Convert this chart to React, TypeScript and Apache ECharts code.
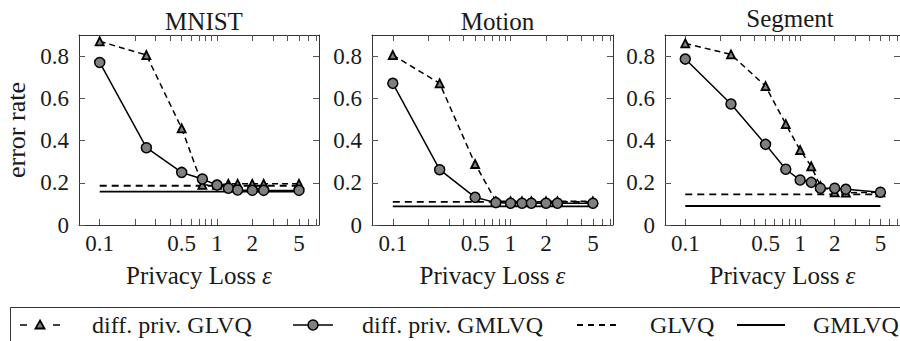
import React, { useEffect, useRef } from "react";
import * as echarts from "echarts";

// ---- data ----
const epsilons = [0.1, 0.25, 0.5, 0.75, 1, 1.25, 1.5, 2, 2.5, 5];
const datasetNames = ["MNIST", "Motion", "Segment"];

const mnistDpGlvq = [0.87, 0.805, 0.458, 0.19, 0.19, 0.195, 0.195, 0.195, 0.195, 0.195];
const mnistDpGmlvq = [0.77, 0.366, 0.249, 0.218, 0.189, 0.174, 0.166, 0.164, 0.164, 0.164];
const mnistGlvq = 0.186;
const mnistGmlvq = 0.158;

const motionDpGlvq = [0.805, 0.671, 0.289, 0.113, 0.112, 0.112, 0.112, 0.112, 0.112, 0.112];
const motionDpGmlvq = [0.671, 0.262, 0.131, 0.106, 0.103, 0.103, 0.103, 0.103, 0.103, 0.103];
const motionGlvq = 0.11;
const motionGmlvq = 0.088;

const segmentDpGlvq = [0.86, 0.808, 0.658, 0.478, 0.355, 0.278, 0.185, 0.155, 0.153, 0.155];
const segmentDpGmlvq = [0.786, 0.573, 0.382, 0.264, 0.213, 0.202, 0.174, 0.174, 0.169, 0.155];
const segmentGlvq = 0.145;
const segmentGmlvq = 0.09;

const xLabelTicks = [0.1, 0.5, 1, 2, 5];
const xMinorTicks = [0.1, 0.2, 0.3, 0.4, 0.5, 0.6, 0.7, 0.8, 0.9, 1, 2, 3, 4, 5, 6, 7];
const yLabelTicks = [0, 0.2, 0.4, 0.6, 0.8];

const legendNames = ["diff. priv. GLVQ", "diff. priv. GMLVQ", "GLVQ", "GMLVQ"];

// ---- layout / style ----
const X_MIN = -1.1765; // log10 space
const X_MAX = 0.8695;
const Y_MIN = 0;
const Y_MAX = 0.9;
const FONT = "Liberation Serif";
const TEXT = "#1a1a1a";
const AXIS = "#333";
const TICK = "#555";
const GRAY = "#7f7f7f";

const grids = [
  { left: 79, top: 35, width: 240, height: 190 },
  { left: 372, top: 35, width: 241, height: 190 },
  { left: 665, top: 35, width: 240, height: 190 },
];
const titleTops = [4, 4, 1];

export default function App() {
  const ref = useRef<HTMLDivElement>(null);

  useEffect(() => {
    if (!ref.current) return;
    const chart = echarts.init(ref.current, null, { renderer: "svg" });
    const lg = Math.log10;
    const fmtX = (v: number) => String(Number(Math.pow(10, v).toPrecision(3)));

    const panels = [
      { dpGlvq: mnistDpGlvq, dpGmlvq: mnistDpGmlvq, glvq: mnistGlvq, gmlvq: mnistGmlvq },
      { dpGlvq: motionDpGlvq, dpGmlvq: motionDpGmlvq, glvq: motionGlvq, gmlvq: motionGmlvq },
      { dpGlvq: segmentDpGlvq, dpGmlvq: segmentDpGmlvq, glvq: segmentGlvq, gmlvq: segmentGmlvq },
    ];

    const xAxes: any[] = [];
    const yAxes: any[] = [];
    const series: any[] = [];

    grids.forEach((_, i) => {
      const tickCommon = {
        show: true,
        inside: true,
        length: 6,
        lineStyle: { color: TICK, width: 1 },
      };
      xAxes.push({
        gridIndex: i,
        type: "value",
        position: "bottom",
        min: X_MIN,
        max: X_MAX,
        axisLine: { show: true, onZero: false, lineStyle: { color: AXIS, width: 1 } },
        axisTick: { ...tickCommon, customValues: xMinorTicks.map(lg) },
        axisLabel: {
          customValues: xLabelTicks.map(lg),
          formatter: fmtX,
          fontFamily: FONT,
          fontSize: 23,
          color: TEXT,
          margin: 7,
        },
        splitLine: { show: false },
        name: "Privacy Loss {e|ε}",
        nameLocation: "middle",
        nameGap: 38,
        nameTextStyle: {
          fontFamily: FONT,
          fontSize: 25,
          color: TEXT,
          rich: { e: { fontFamily: FONT, fontSize: 25, fontStyle: "italic", color: TEXT } },
        },
      });
      xAxes.push({
        gridIndex: i,
        type: "value",
        position: "top",
        min: X_MIN,
        max: X_MAX,
        axisLine: { show: true, onZero: false, lineStyle: { color: AXIS, width: 1 } },
        axisTick: { ...tickCommon, customValues: xMinorTicks.map(lg) },
        axisLabel: { show: false },
        splitLine: { show: false },
      });
      yAxes.push({
        gridIndex: i,
        type: "value",
        position: "left",
        min: Y_MIN,
        max: Y_MAX,
        axisLine: { show: true, onZero: false, lineStyle: { color: AXIS, width: 1 } },
        axisTick: { ...tickCommon, customValues: yLabelTicks },
        axisLabel: {
          customValues: yLabelTicks,
          formatter: (v: number) => String(Number(v.toFixed(1))),
          fontFamily: FONT,
          fontSize: 23,
          color: TEXT,
          margin: 10,
        },
        splitLine: { show: false },
        ...(i === 0
          ? {
              name: "error rate",
              nameLocation: "middle",
              nameGap: 50,
              nameRotate: 90,
              nameTextStyle: { fontFamily: FONT, fontSize: 26, color: TEXT },
            }
          : {}),
      });
      yAxes.push({
        gridIndex: i,
        type: "value",
        position: "right",
        min: Y_MIN,
        max: Y_MAX,
        axisLine: { show: true, onZero: false, lineStyle: { color: AXIS, width: 1 } },
        axisTick: { ...tickCommon, customValues: yLabelTicks },
        axisLabel: { show: false },
        splitLine: { show: false },
      });

      const p = panels[i];
      const xi = i * 2;
      const yi = i * 2;
      series.push({
        name: legendNames[2],
        type: "line",
        xAxisIndex: xi,
        yAxisIndex: yi,
        data: epsilons.map((e) => [lg(e), p.glvq]),
        showSymbol: false,
        symbol: "none",
        lineStyle: { color: "#000", width: 1.8, type: [7, 5] },
        z: 2,
      });
      series.push({
        name: legendNames[3],
        type: "line",
        xAxisIndex: xi,
        yAxisIndex: yi,
        data: epsilons.map((e) => [lg(e), p.gmlvq]),
        showSymbol: false,
        symbol: "none",
        lineStyle: { color: "#000", width: 1.8 },
        z: 2,
      });
      series.push({
        name: legendNames[0],
        type: "line",
        xAxisIndex: xi,
        yAxisIndex: yi,
        data: epsilons.map((e, k) => [lg(e), p.dpGlvq[k]]),
        symbol: "triangle",
        symbolSize: 8,
        itemStyle: { color: GRAY, borderColor: "#000", borderWidth: 1.8 },
        lineStyle: { color: "#000", width: 1.5, type: [6, 4] },
        z: 3,
      });
      series.push({
        name: legendNames[1],
        type: "line",
        xAxisIndex: xi,
        yAxisIndex: yi,
        data: epsilons.map((e, k) => [lg(e), p.dpGmlvq[k]]),
        symbol: "circle",
        symbolSize: 10,
        itemStyle: { color: GRAY, borderColor: "#000", borderWidth: 1.5 },
        lineStyle: { color: "#000", width: 1.5 },
        z: 4,
      });
    });

    // legend drawn with graphic elements
    const ly = 325;
    const textStyle = (t: string, x: number) => ({
      type: "text",
      x,
      y: ly,
      style: { text: t, fontFamily: FONT, fontSize: 24, fill: TEXT, verticalAlign: "middle", align: "left" },
    });
    const graphic: any[] = [
      {
        type: "rect",
        shape: { x: 10.5, y: 307.5, width: 900, height: 50 },
        style: { fill: "none", stroke: AXIS, lineWidth: 1 },
      },
      { type: "line", shape: { x1: 20, y1: ly, x2: 27, y2: ly }, style: { stroke: "#000", lineWidth: 1.5 } },
      { type: "line", shape: { x1: 53, y1: ly, x2: 60, y2: ly }, style: { stroke: "#000", lineWidth: 1.5 } },
      {
        type: "polygon",
        shape: { points: [[40, 320.5], [44.5, 328.5], [35.5, 328.5]] },
        style: { fill: GRAY, stroke: "#000", lineWidth: 1.8 },
      },
      textStyle(legendNames[0], 92),
      { type: "line", shape: { x1: 293, y1: ly, x2: 333, y2: ly }, style: { stroke: "#000", lineWidth: 1.5 } },
      {
        type: "circle",
        shape: { cx: 313, cy: ly, r: 5 },
        style: { fill: GRAY, stroke: "#000", lineWidth: 1.5 },
      },
      textStyle(legendNames[1], 362),
      {
        type: "line",
        shape: { x1: 577, y1: ly, x2: 618, y2: ly },
        style: { stroke: "#000", lineWidth: 1.8, lineDash: [6, 5] },
      },
      textStyle(legendNames[2], 650),
      { type: "line", shape: { x1: 737, y1: ly, x2: 785, y2: ly }, style: { stroke: "#000", lineWidth: 1.8 } },
      textStyle(legendNames[3], 813),
    ];

    chart.setOption({
      animation: false,
      backgroundColor: "#fff",
      title: datasetNames.map((t, i) => ({
        text: t,
        left: grids[i].left + grids[i].width / 2,
        top: titleTops[i],
        textAlign: "center",
        textStyle: { fontFamily: FONT, fontSize: 25, fontWeight: "normal", color: TEXT },
      })),
      grid: grids.map((g) => ({ ...g, containLabel: false })),
      xAxis: xAxes,
      yAxis: yAxes,
      series,
      graphic,
    });

    return () => chart.dispose();
  }, []);

  return (
    <div
      ref={ref}
      style={{ position: "fixed", left: 0, top: 0, width: 900, height: 341, background: "#fff" }}
    />
  );
}
